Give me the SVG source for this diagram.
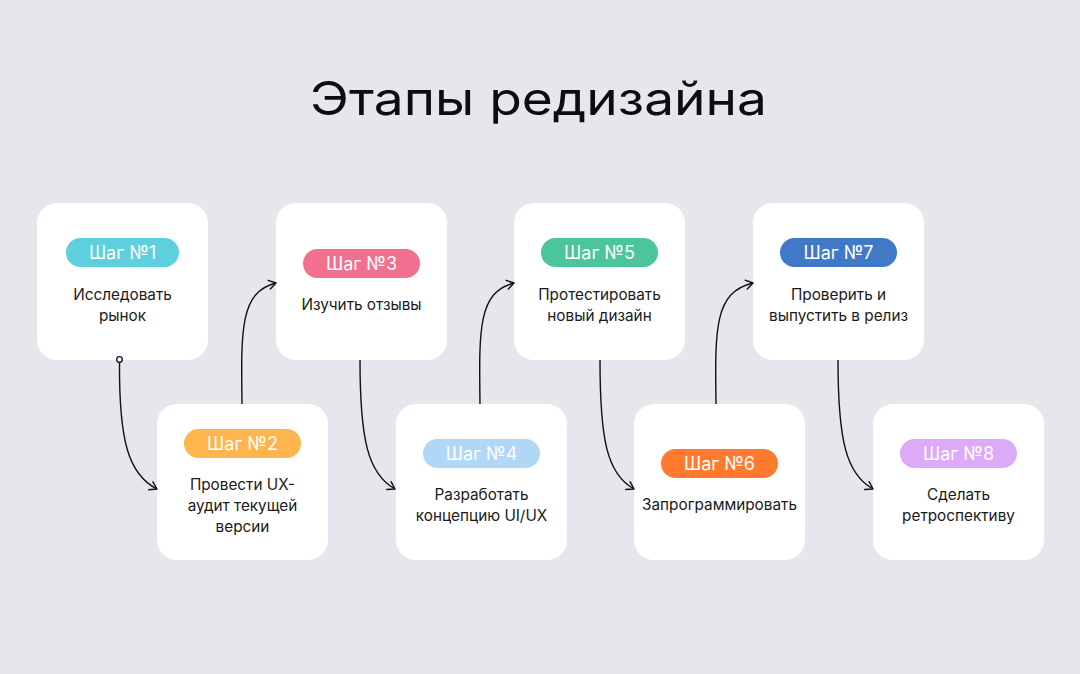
<svg xmlns="http://www.w3.org/2000/svg" width="1080" height="674" viewBox="0 0 1080 674">
<defs>
<style>
.card{fill:#ffffff}
.pill-t{font-family:Inter,"Noto Sans",sans-serif;font-size:18px;fill:#ffffff;text-anchor:middle;dominant-baseline:central}
.t{font-family:Inter,"Noto Sans",sans-serif;font-size:15.3px;fill:#1a1a1a;text-anchor:middle;dominant-baseline:central}
.title{font-family:Inter,"Noto Sans",sans-serif;font-size:46px;fill:#0d0d0d;text-anchor:middle}
.c{fill:none;stroke:#111;stroke-width:1.4}
</style>
<marker id="arr" viewBox="0 0 12 12" refX="10" refY="6" markerWidth="12" markerHeight="12" markerUnits="userSpaceOnUse" orient="auto">
<path d="M3,1.5 L10,6 L3,10.5" fill="none" stroke="#111" stroke-width="1.4" stroke-linecap="round" stroke-linejoin="round"/>
</marker>
</defs>
<rect width="1080" height="674" fill="#e6e6ec"/>
<text class="title" x="538.5" y="115" textLength="457" lengthAdjust="spacingAndGlyphs">Этапы редизайна</text>

<g id="node1">
<rect class="card" x="37" y="203" width="171" height="157" rx="20"/>
<rect x="66" y="238" width="113" height="29" rx="14.5" fill="#5ecfdd"/>
<text class="pill-t" x="122.5" y="252.5">Шаг №1</text>
<text class="t" x="122.5" y="294">Исследовать</text>
<text class="t" x="122.5" y="315">рынок</text>
</g>
<g id="node2">
<rect class="card" x="157" y="404" width="171" height="156" rx="20"/>
<rect x="184" y="429" width="117" height="29" rx="14.5" fill="#ffb54d"/>
<text class="pill-t" x="242.5" y="443.5">Шаг №2</text>
<text class="t" x="242.5" y="484">Провести UX-</text>
<text class="t" x="242.5" y="505">аудит текущей</text>
<text class="t" x="242.5" y="526">версии</text>
</g>
<g id="node3">
<rect class="card" x="276" y="203" width="171" height="157" rx="20"/>
<rect x="303" y="249" width="117" height="29" rx="14.5" fill="#f2708f"/>
<text class="pill-t" x="361.5" y="263.5">Шаг №3</text>
<text class="t" x="361.5" y="304">Изучить отзывы</text>
</g>
<g id="node4">
<rect class="card" x="396" y="404" width="171" height="156" rx="20"/>
<rect x="423" y="439" width="117" height="29" rx="14.5" fill="#b1d7f7"/>
<text class="pill-t" x="481.5" y="453.5">Шаг №4</text>
<text class="t" x="481.5" y="494">Разработать</text>
<text class="t" x="481.5" y="515">концепцию UI/UX</text>
</g>
<g id="node5">
<rect class="card" x="514" y="203" width="171" height="157" rx="20"/>
<rect x="541" y="238" width="117" height="29" rx="14.5" fill="#4cc49c"/>
<text class="pill-t" x="599.5" y="252.5">Шаг №5</text>
<text class="t" x="599.5" y="294">Протестировать</text>
<text class="t" x="599.5" y="315">новый дизайн</text>
</g>
<g id="node6">
<rect class="card" x="634" y="404" width="171" height="156" rx="20"/>
<rect x="661" y="449" width="117" height="29" rx="14.5" fill="#ff7a2e"/>
<text class="pill-t" x="719.5" y="463.5">Шаг №6</text>
<text class="t" x="719.5" y="504">Запрограммировать</text>
</g>
<g id="node7">
<rect class="card" x="753" y="203" width="171" height="157" rx="20"/>
<rect x="780" y="238" width="117" height="29" rx="14.5" fill="#3f79c8"/>
<text class="pill-t" x="838.5" y="252.5">Шаг №7</text>
<text class="t" x="838.5" y="294">Проверить и</text>
<text class="t" x="838.5" y="315">выпустить в релиз</text>
</g>
<g id="node8">
<rect class="card" x="873" y="404" width="171" height="156" rx="20"/>
<rect x="900" y="439" width="117" height="29" rx="14.5" fill="#dcaaf6"/>
<text class="pill-t" x="958.5" y="453.5">Шаг №8</text>
<text class="t" x="958.5" y="494">Сделать</text>
<text class="t" x="958.5" y="515">ретроспективу</text>
</g>

<g id="connectors">
<path class="c" d="M119.5,362.5 C119,440 128,474 157,489" marker-end="url(#arr)"/>
<circle cx="119.5" cy="359.5" r="2.8" fill="#fff" stroke="#111" stroke-width="1.3"/>
<path class="c" d="M242,404 C241,330 240,292 276,283" marker-end="url(#arr)"/>
<path class="c" d="M360,360 C360,440 368,474 395,489" marker-end="url(#arr)"/>
<path class="c" d="M480,404 C479,330 478,292 514,283" marker-end="url(#arr)"/>
<path class="c" d="M600,360 C600,440 607,474 634,489" marker-end="url(#arr)"/>
<path class="c" d="M716,404 C715,330 714,292 753,283" marker-end="url(#arr)"/>
<path class="c" d="M838,360 C838,440 846,474 873,489" marker-end="url(#arr)"/>
</g>
</svg>
